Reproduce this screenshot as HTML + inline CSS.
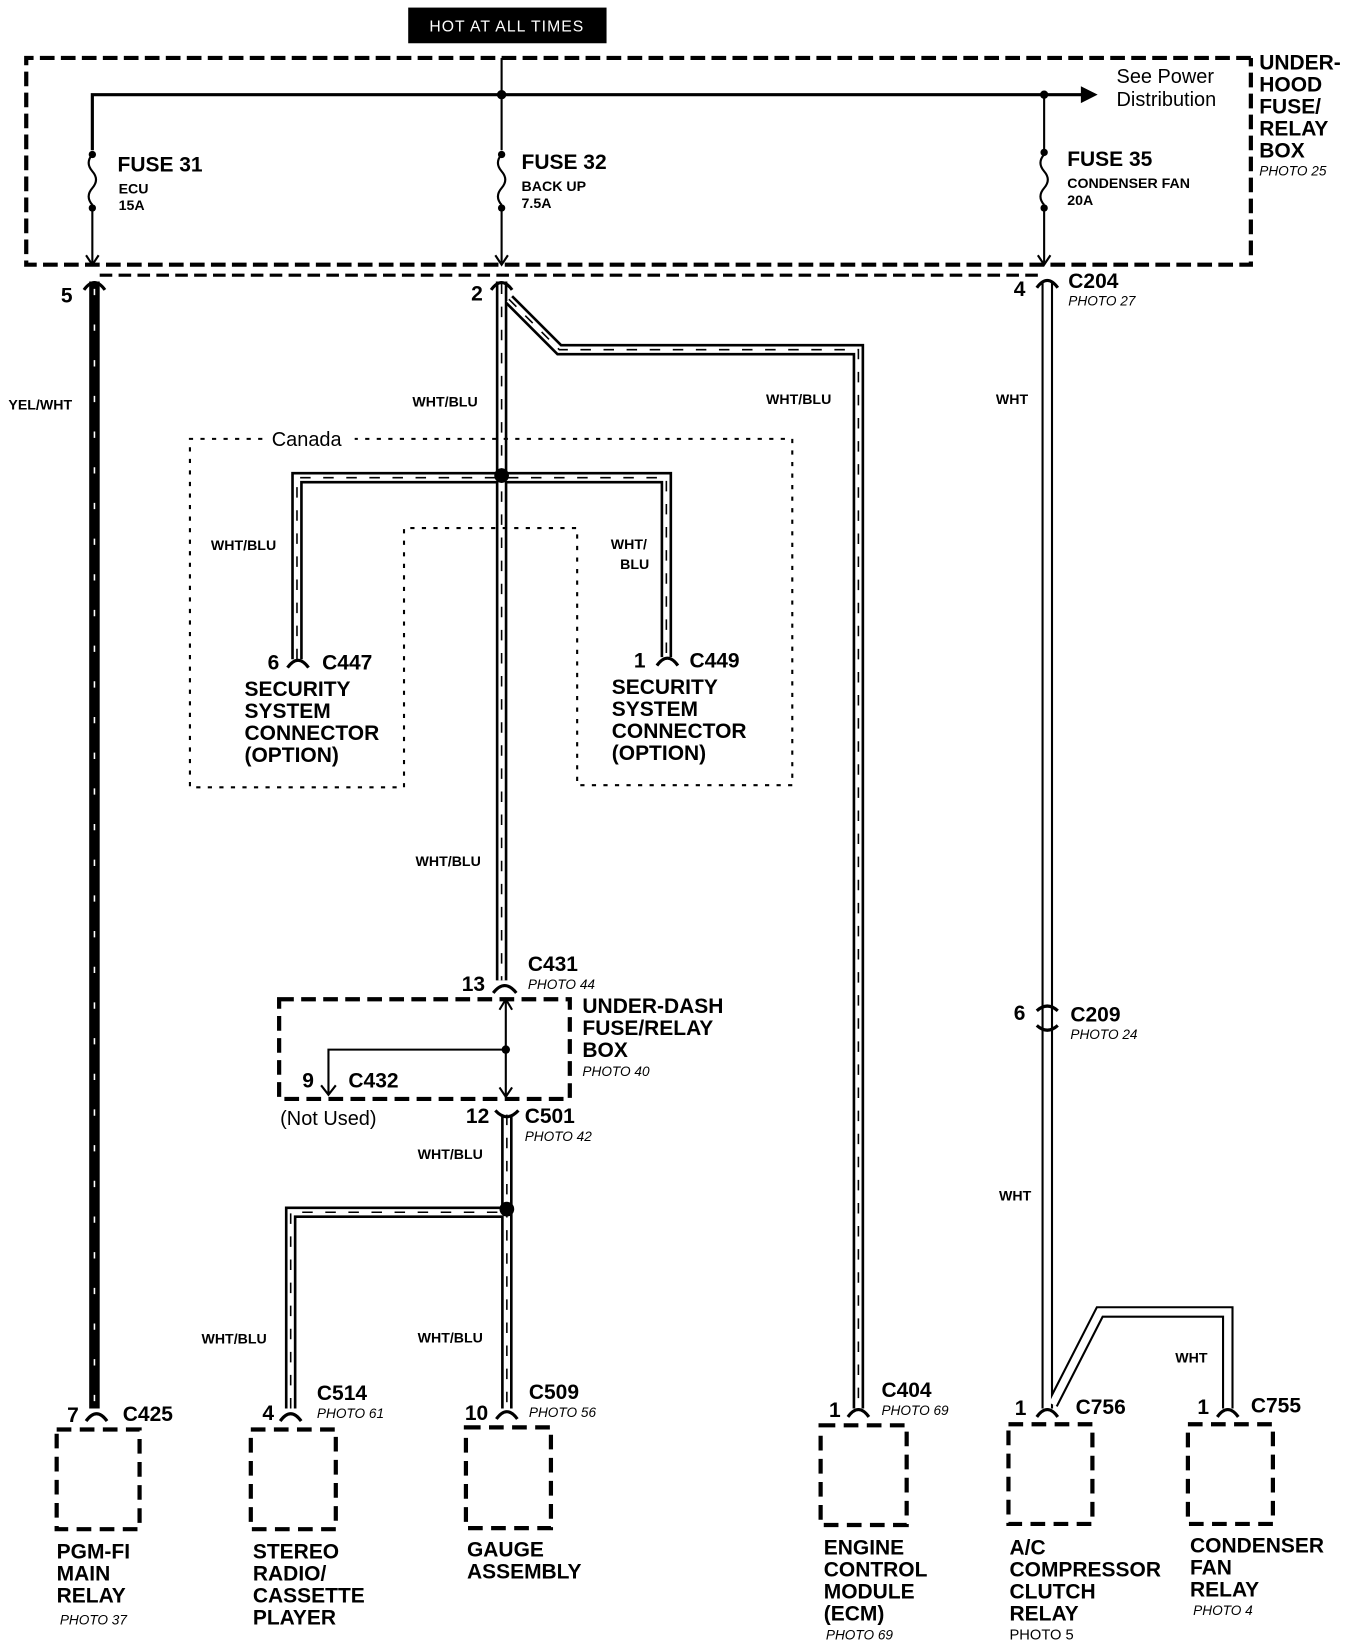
<!DOCTYPE html>
<html><head><meta charset="utf-8"><style>
html,body{margin:0;padding:0;background:#fff}
svg{display:block}
text{font-family:"Liberation Sans",sans-serif;fill:#000}
.b{font-weight:bold;font-size:20px}
.s{font-weight:bold;font-size:13.5px}
.p{font-style:italic;font-size:13px}
.n{font-size:19px}
</style></head><body>
<svg width="1360" height="1648" viewBox="0 0 1296 1570" xmlns="http://www.w3.org/2000/svg">
<rect x="389" y="7" width="189" height="34" fill="#000"/>
<text x="483" y="30" text-anchor="middle" style="fill:#fff;font-size:15px;letter-spacing:1px">HOT AT ALL TIMES</text>
<g fill="none" stroke="#000" stroke-width="4" stroke-dasharray="14,6">
<path d="M1192,55 L25,55 L25,252 L1192,252 L1192,55"/>
</g>
<path d="M95,262 L990,262" stroke="#000" stroke-width="3" stroke-dasharray="12,6" fill="none"/>
<g stroke="#000" fill="none">
<path d="M478,55 L478,90" stroke-width="2"/>
<path d="M88,143 L88,90 L1032,90" stroke-width="3"/>
<polygon points="1030,82 1046,90 1030,98" fill="#000" stroke="none"/>
<circle cx="478" cy="90" r="4" fill="#000"/>
<circle cx="995" cy="90" r="3.5" fill="#000"/>
<path d="M478,90 L478,143 M995,90 L995,143" stroke-width="2"/>
<path d="M88,147 q-7,8 0,16 q7,8 0,16 q-7,8 0,16 M88,200 L88,250" stroke-width="2"/>
<path d="M478,147 q-7,8 0,16 q7,8 0,16 q-7,8 0,16 M478,200 L478,250" stroke-width="2"/>
<path d="M995,147 q-7,8 0,16 q7,8 0,16 q-7,8 0,16 M995,200 L995,250" stroke-width="2"/>
<path d="M82,243 L88,252 L94,243 M472,243 L478,252 L484,243 M989,243 L995,252 L1001,243" stroke-width="2"/>
</g>
<g fill="#000">
<circle cx="88" cy="147" r="3.5"/><circle cx="88" cy="198" r="3.5"/>
<circle cx="478" cy="147" r="3.5"/><circle cx="478" cy="198" r="3.5"/>
<circle cx="995" cy="145" r="3.5"/><circle cx="995" cy="198" r="3.5"/>
</g>
<text x="112" y="163" class="b">FUSE 31</text><text x="113" y="184" class="s">ECU</text><text x="113" y="200" class="s">15A</text>
<text x="497" y="161" class="b">FUSE 32</text><text x="497" y="182" class="s">BACK UP</text><text x="497" y="198" class="s">7.5A</text>
<text x="1017" y="158" class="b">FUSE 35</text><text x="1017" y="179" class="s">CONDENSER FAN</text><text x="1017" y="195" class="s">20A</text>
<text x="1064" y="79" class="n">See Power</text><text x="1064" y="101" class="n">Distribution</text>
<text x="1200" y="66" class="b">UNDER-</text><text x="1200" y="87" class="b">HOOD</text><text x="1200" y="108" class="b">FUSE/</text><text x="1200" y="129" class="b">RELAY</text><text x="1200" y="150" class="b">BOX</text><text x="1200" y="167" class="p">PHOTO 25</text>

<path d="M90,268 L90,1342" stroke="#000" stroke-width="10"/>
<path d="M90,275 L90,1342" stroke="#fff" stroke-width="1.5" stroke-dasharray="6,28"/>
<text x="8" y="390" class="s">YEL/WHT</text>

<g fill="none" stroke-linejoin="miter">
<g stroke="#000" stroke-width="11">
<path d="M478,268 L478,934"/>
<path d="M485,285 L533,333 L818,333 L818,1342"/>
<path d="M283,628 L283,455 L635,455 L635,626"/>
<path d="M483,1062 L483,1342"/>
<path d="M277,1342 L277,1155 L483,1155"/>
</g>
<g stroke="#fff" stroke-width="6">
<path d="M478,268 L478,934"/>
<path d="M485,285 L533,333 L818,333 L818,1342"/>
<path d="M283,628 L283,455 L635,455 L635,626"/>
<path d="M483,1062 L483,1342"/>
<path d="M277,1342 L277,1155 L483,1155"/>
</g>
<g stroke="#000" stroke-width="1.5" stroke-dasharray="10,12">
<path d="M478,270 L478,934"/>
<path d="M485,285 L533,333 L818,333 L818,1342"/>
<path d="M283,628 L283,455 L635,455 L635,626"/>
<path d="M483,1062 L483,1342"/>
<path d="M277,1342 L277,1155 L483,1155"/>
</g>
<g stroke="#000" stroke-width="11"><path d="M998,268 L998,1342"/><path d="M1003,1338 L1048,1250 L1170,1250 L1170,1342"/></g>
<g stroke="#fff" stroke-width="7"><path d="M998,268 L998,1342"/><path d="M1003,1338 L1048,1250 L1170,1250 L1170,1342"/></g>
</g>
<circle cx="478" cy="453" r="7" fill="#000"/>
<circle cx="483" cy="1152" r="7" fill="#000"/>
<text x="393" y="387" class="s">WHT/BLU</text>
<text x="730" y="385" class="s">WHT/BLU</text>
<text x="949" y="385" class="s">WHT</text>
<text x="952" y="1144" class="s">WHT</text>
<text x="1120" y="1298" class="s">WHT</text>
<text x="201" y="524" class="s">WHT/BLU</text>
<text x="582" y="523" class="s">WHT/</text><text x="591" y="542" class="s">BLU</text>
<text x="396" y="825" class="s">WHT/BLU</text>
<text x="398" y="1104" class="s">WHT/BLU</text>
<text x="192" y="1280" class="s">WHT/BLU</text>
<text x="398" y="1279" class="s">WHT/BLU</text>

<path d="M250,418 L181,418 L181,750 L385,750 L385,503 L550,503 L550,748 L755,748 L755,418 L338,418" fill="none" stroke="#000" stroke-width="2" stroke-dasharray="4,7"/>
<text x="259" y="425" class="n">Canada</text>

<g fill="none" stroke="#000" stroke-width="3">
<path d="M80,276 Q90,262 100,276"/>
<path d="M468,276 Q478,262 488,276"/>
<path d="M988,274 Q998,260 1008,274"/>
<path d="M274,636 Q284,622 294,636"/>
<path d="M626,634 Q636,620 646,634"/>
<path d="M470,946 Q481,932 492,946"/>
<path d="M988,963 Q998,954 1008,963 M988,977 Q998,986 1008,977"/>
<path d="M472,1058 Q483,1070 494,1058"/>
<path d="M82,1354 Q92,1340 102,1354"/>
<path d="M267,1354 Q277,1340 287,1354"/>
<path d="M473,1352 Q483,1338 493,1352"/>
<path d="M808,1350 Q818,1336 828,1350"/>
<path d="M988,1350 Q998,1336 1008,1350"/>
<path d="M1160,1350 Q1170,1336 1180,1350"/>
</g>
<text x="58" y="288" class="b">5</text>
<text x="449" y="286" class="b">2</text>
<text x="966" y="282" class="b">4</text>
<text x="1018" y="274" class="b">C204</text><text x="1018" y="291" class="p">PHOTO 27</text>
<text x="255" y="638" class="b">6</text><text x="307" y="638" class="b">C447</text>
<text x="233" y="663" class="b">SECURITY</text><text x="233" y="684" class="b">SYSTEM</text><text x="233" y="705" class="b">CONNECTOR</text><text x="233" y="726" class="b">(OPTION)</text>
<text x="604" y="636" class="b">1</text><text x="657" y="636" class="b">C449</text>
<text x="583" y="661" class="b">SECURITY</text><text x="583" y="682" class="b">SYSTEM</text><text x="583" y="703" class="b">CONNECTOR</text><text x="583" y="724" class="b">(OPTION)</text>
<text x="440" y="944" class="b">13</text><text x="503" y="925" class="b">C431</text><text x="503" y="942" class="p">PHOTO 44</text>

<path d="M266,952 L543,952 L543,1047 L266,1047 Z" fill="none" stroke="#000" stroke-width="4" stroke-dasharray="14,7"/>
<g fill="none" stroke="#000" stroke-width="2">
<path d="M482,952 L482,1045 M476,962 L482,952 L488,962 M476,1036 L482,1045 L488,1036"/>
<path d="M482,1000 L313,1000 L313,1043 M306,1034 L313,1043 L320,1034"/>
</g>
<circle cx="482" cy="1000" r="4" fill="#000"/>
<text x="555" y="965" class="b">UNDER-DASH</text><text x="555" y="986" class="b">FUSE/RELAY</text><text x="555" y="1007" class="b">BOX</text><text x="555" y="1025" class="p">PHOTO 40</text>
<text x="288" y="1036" class="b">9</text><text x="332" y="1036" class="b">C432</text>
<text x="267" y="1072" class="n">(Not Used)</text>
<text x="966" y="972" class="b">6</text>
<text x="1020" y="973" class="b">C209</text><text x="1020" y="990" class="p">PHOTO 24</text>
<text x="444" y="1070" class="b">12</text><text x="500" y="1070" class="b">C501</text><text x="500" y="1087" class="p">PHOTO 42</text>

<text x="64" y="1355" class="b">7</text><text x="117" y="1354" class="b">C425</text>
<text x="250" y="1353" class="b">4</text><text x="302" y="1334" class="b">C514</text><text x="302" y="1351" class="p">PHOTO 61</text>
<text x="443" y="1353" class="b">10</text><text x="504" y="1333" class="b">C509</text><text x="504" y="1350" class="p">PHOTO 56</text>
<text x="790" y="1350" class="b">1</text><text x="840" y="1331" class="b">C404</text><text x="840" y="1348" class="p">PHOTO 69</text>
<text x="967" y="1348" class="b">1</text><text x="1025" y="1347" class="b">C756</text>
<text x="1141" y="1347" class="b">1</text><text x="1192" y="1346" class="b">C755</text>

<g fill="none" stroke="#000" stroke-width="4" stroke-dasharray="14,8">
<rect x="54" y="1362" width="79" height="95"/>
<rect x="239" y="1362" width="81" height="95"/>
<rect x="444" y="1360" width="81" height="96"/>
<rect x="782" y="1358" width="82" height="95"/>
<rect x="961" y="1357" width="80" height="95"/>
<rect x="1132" y="1357" width="81" height="95"/>
</g>
<text x="54" y="1485" class="b">PGM-FI</text><text x="54" y="1506" class="b">MAIN</text><text x="54" y="1527" class="b">RELAY</text><text x="57" y="1548" class="p">PHOTO 37</text>
<text x="241" y="1485" class="b">STEREO</text><text x="241" y="1506" class="b">RADIO/</text><text x="241" y="1527" class="b">CASSETTE</text><text x="241" y="1548" class="b">PLAYER</text>
<text x="445" y="1483" class="b">GAUGE</text><text x="445" y="1504" class="b">ASSEMBLY</text>
<text x="785" y="1481" class="b">ENGINE</text><text x="785" y="1502" class="b">CONTROL</text><text x="785" y="1523" class="b">MODULE</text><text x="785" y="1544" class="b">(ECM)</text><text x="787" y="1562" class="p">PHOTO 69</text>
<text x="962" y="1481" class="b">A/C</text><text x="962" y="1502" class="b">COMPRESSOR</text><text x="962" y="1523" class="b">CLUTCH</text><text x="962" y="1544" class="b">RELAY</text><text x="962" y="1562" style="font-size:14px">PHOTO 5</text>
<text x="1134" y="1479" class="b">CONDENSER</text><text x="1134" y="1500" class="b">FAN</text><text x="1134" y="1521" class="b">RELAY</text><text x="1137" y="1539" class="p">PHOTO 4</text>
</svg>
</body></html>
